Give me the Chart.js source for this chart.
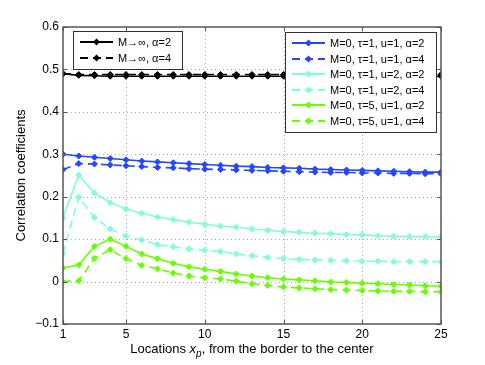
<!DOCTYPE html>
<html>
<head>
<meta charset="utf-8">
<script src="https://cdn.jsdelivr.net/npm/chart.js@4"></script>
<style>
  html, body { margin: 0; padding: 0; background: #fff; }
  #wrap { width: 485px; height: 365px; }
</style>
</head>
<body>
<div id="wrap"><canvas id="chart" width="485" height="365"></canvas></div>
<script>
var locations = [];
for (var i = 1; i <= 25; i++) locations.push(i);

var xTicks = [1, 5, 10, 15, 20, 25];
var yTicks = [-0.1, 0, 0.1, 0.2, 0.3, 0.4, 0.5, 0.6];

var infA2 = [0.490, 0.486, 0.485, 0.484, 0.484, 0.484, 0.484, 0.484, 0.484, 0.484, 0.484, 0.484, 0.484,
  0.484, 0.484, 0.484, 0.484, 0.484, 0.484, 0.484, 0.484, 0.484, 0.484, 0.484, 0.484];
var infA4 = [0.490, 0.488, 0.488, 0.488, 0.488, 0.488, 0.488, 0.488, 0.488, 0.488, 0.488, 0.488, 0.488,
  0.488, 0.488, 0.488, 0.488, 0.488, 0.488, 0.488, 0.488, 0.488, 0.488, 0.488, 0.488];
var t1u1a2 = [0.300, 0.296, 0.293, 0.290, 0.287, 0.284, 0.282, 0.280, 0.278, 0.276, 0.274, 0.272, 0.271,
  0.269, 0.268, 0.267, 0.265, 0.264, 0.263, 0.262, 0.261, 0.260, 0.259, 0.258, 0.258];
var t1u1a4 = [0.264, 0.278, 0.277, 0.275, 0.273, 0.271, 0.269, 0.268, 0.266, 0.265, 0.264, 0.263, 0.262,
  0.261, 0.260, 0.259, 0.258, 0.257, 0.257, 0.256, 0.256, 0.255, 0.255, 0.254, 0.254];
var t1u2a2 = [0.150, 0.251, 0.209, 0.186, 0.171, 0.161, 0.152, 0.146, 0.140, 0.135, 0.131, 0.128, 0.124,
  0.121, 0.118, 0.116, 0.114, 0.113, 0.111, 0.110, 0.108, 0.107, 0.106, 0.106, 0.105];
var t1u2a4 = [0.066, 0.199, 0.151, 0.124, 0.107, 0.098, 0.087, 0.082, 0.077, 0.074, 0.071, 0.065, 0.061,
  0.057, 0.054, 0.052, 0.051, 0.050, 0.049, 0.048, 0.048, 0.047, 0.047, 0.047, 0.046];
var t5u1a2 = [0.032, 0.039, 0.083, 0.100, 0.083, 0.065, 0.054, 0.043, 0.035, 0.029, 0.024, 0.018, 0.013,
  0.009, 0.006, 0.004, 0.002, -0.001, -0.002, -0.004, -0.005, -0.007, -0.008, -0.010, -0.011];
var t5u1a4 = [0.000, 0.002, 0.055, 0.075, 0.054, 0.038, 0.030, 0.020, 0.013, 0.009, 0.006, 0.001, -0.005,
  -0.009, -0.013, -0.015, -0.017, -0.019, -0.020, -0.021, -0.022, -0.023, -0.023, -0.024, -0.024];

var BLACK = '#000000', BLUE = '#2545ff', CYAN = '#7fffd8', GREEN = '#66ff00';
var DASH = [8, 5];

function series(label, values, color, dashed, group) {
  return {
    label: label,
    data: values.map(function (v, k) { return { x: locations[k], y: v }; }),
    borderColor: color,
    backgroundColor: color,
    borderWidth: 1.6,
    borderDash: dashed ? DASH : [],
    pointStyle: 'rectRot',
    pointRadius: 3,
    pointBorderWidth: 1,
    pointBorderColor: color,
    pointBackgroundColor: color,
    tension: 0,
    group: group
  };
}

var datasets = [
  series('M\u2192\u221e, \u03b1=2', infA2, BLACK, false, 1),
  series('M\u2192\u221e, \u03b1=4', infA4, BLACK, true, 1),
  series('M=0, \u03c4=1, u=1, \u03b1=2', t1u1a2, BLUE, false, 2),
  series('M=0, \u03c4=1, u=1, \u03b1=4', t1u1a4, BLUE, true, 2),
  series('M=0, \u03c4=1, u=2, \u03b1=2', t1u2a2, CYAN, false, 2),
  series('M=0, \u03c4=1, u=2, \u03b1=4', t1u2a4, CYAN, true, 2),
  series('M=0, \u03c4=5, u=1, \u03b1=2', t5u1a2, GREEN, false, 2),
  series('M=0, \u03c4=5, u=1, \u03b1=4', t5u1a4, GREEN, true, 2)
];

var FONT = '"Liberation Sans", Arial, Helvetica, sans-serif';

// dotted grid, box, inward ticks, legends and x label in MATLAB style
var matlabPlugin = {
  id: 'matlab',
  beforeDatasetsDraw: function (chart) {
    var ctx = chart.ctx, a = chart.chartArea;
    var xs = chart.scales.x, ys = chart.scales.y;
    ctx.save();
    ctx.strokeStyle = '#aaa';
    ctx.lineWidth = 1;
    ctx.setLineDash([1, 3]);
    ctx.beginPath();
    xTicks.slice(1, -1).forEach(function (t) {
      var px = Math.round(xs.getPixelForValue(t)) + 0.5;
      ctx.moveTo(px, a.top); ctx.lineTo(px, a.bottom);
    });
    yTicks.slice(1, -1).forEach(function (t) {
      var py = Math.round(ys.getPixelForValue(t)) + 0.5;
      ctx.moveTo(a.left, py); ctx.lineTo(a.right, py);
    });
    ctx.stroke();
    ctx.restore();
  },
  afterDatasetsDraw: function (chart) {
    var ctx = chart.ctx, a = chart.chartArea;
    var xs = chart.scales.x, ys = chart.scales.y;
    ctx.save();
    ctx.strokeStyle = '#555';
    ctx.lineWidth = 1;
    ctx.setLineDash([]);
    ctx.beginPath();
    xTicks.forEach(function (t) {
      var px = Math.round(xs.getPixelForValue(t)) + 0.5;
      ctx.moveTo(px, a.bottom); ctx.lineTo(px, a.bottom - 4);
      ctx.moveTo(px, a.top); ctx.lineTo(px, a.top + 4);
    });
    yTicks.forEach(function (t) {
      var py = Math.round(ys.getPixelForValue(t)) + 0.5;
      ctx.moveTo(a.left, py); ctx.lineTo(a.left + 4, py);
      ctx.moveTo(a.right, py); ctx.lineTo(a.right - 4, py);
    });
    ctx.stroke();
    ctx.lineWidth = 1.5;
    ctx.strokeRect(a.left, a.top, a.right - a.left, a.bottom - a.top);

    drawLegend(chart, 1, 73, 31, 109, 38);
    drawLegend(chart, 2, 285, 32, 151, 100);

    // x axis title with italic subscript
    ctx.fillStyle = '#000';
    ctx.textBaseline = 'alphabetic';
    var y0 = 353;
    var parts = [
      { t: 'Locations ', f: '13px ' + FONT, dy: 0 },
      { t: 'x', f: 'italic 13px ' + FONT, dy: 0 },
      { t: 'p', f: 'italic 10px ' + FONT, dy: 4 },
      { t: ', from the border to the center', f: '13px ' + FONT, dy: 0 }
    ];
    var total = 0;
    parts.forEach(function (p) { ctx.font = p.f; total += ctx.measureText(p.t).width; });
    var x0 = (a.left + a.right) / 2 - total / 2;
    parts.forEach(function (p) {
      ctx.font = p.f;
      ctx.fillText(p.t, x0, y0 + p.dy);
      x0 += ctx.measureText(p.t).width;
    });
    ctx.restore();
  }
};

function drawLegend(chart, group, x, y, w, h) {
  var ctx = chart.ctx;
  var items = chart.data.datasets.filter(function (d) { return d.group === group; });
  ctx.fillStyle = '#fff';
  ctx.fillRect(x, y, w, h);
  ctx.strokeStyle = '#333';
  ctx.lineWidth = 1;
  ctx.setLineDash([]);
  ctx.strokeRect(x + 0.5, y + 0.5, w, h);
  var rowH = 15.6;
  var firstY = y + (h - rowH * items.length) / 2 + rowH / 2;
  items.forEach(function (d, k) {
    var cy = Math.round(firstY + k * rowH);
    var lx0 = x + 7, lx1 = x + 40;
    ctx.strokeStyle = d.borderColor;
    ctx.lineWidth = 2;
    ctx.setLineDash(d.borderDash);
    ctx.beginPath();
    ctx.moveTo(lx0, cy); ctx.lineTo(lx1, cy);
    ctx.stroke();
    ctx.setLineDash([]);
    var mx = (lx0 + lx1) / 2;
    ctx.fillStyle = d.borderColor;
    ctx.beginPath();
    ctx.moveTo(mx, cy - 3.5); ctx.lineTo(mx + 3.5, cy); ctx.lineTo(mx, cy + 3.5); ctx.lineTo(mx - 3.5, cy);
    ctx.closePath();
    ctx.fill();
    ctx.fillStyle = '#000';
    ctx.font = '11px ' + FONT;
    ctx.textBaseline = 'middle';
    ctx.fillText(d.label, lx1 + 5, cy + 0.5);
  });
}

new Chart(document.getElementById('chart').getContext('2d'), {
  type: 'line',
  data: { datasets: datasets },
  plugins: [matlabPlugin],
  options: {
    responsive: false,
    animation: false,
    layout: { padding: { top: 27, right: 44, left: 0, bottom: 0 } },
    plugins: { legend: { display: false }, tooltip: { enabled: false } },
    scales: {
      x: {
        type: 'linear',
        min: 1,
        max: 25,
        afterBuildTicks: function (s) { s.ticks = xTicks.map(function (v) { return { value: v }; }); },
        afterFit: function (s) { s.height = 41; },
        grid: { display: false, drawTicks: false },
        border: { display: false },
        ticks: { color: '#000', font: { family: FONT, size: 12 }, padding: 3, maxRotation: 0 }
      },
      y: {
        min: -0.1,
        max: 0.6,
        afterBuildTicks: function (s) { s.ticks = yTicks.map(function (v) { return { value: v }; }); },
        afterFit: function (s) { s.width = 63; },
        grid: { display: false, drawTicks: false },
        border: { display: false },
        ticks: {
          color: '#000',
          font: { family: FONT, size: 12 },
          padding: 4,
          callback: function (v) {
            var r = Math.round(v * 10) / 10;
            return r < 0 ? '\u2212' + Math.abs(r) : String(r);
          }
        },
        title: {
          display: true,
          text: 'Correlation coefficients',
          color: '#000',
          font: { family: FONT, size: 13 },
          padding: { top: 14, bottom: 0 }
        }
      }
    }
  }
});
</script>
</body>
</html>
